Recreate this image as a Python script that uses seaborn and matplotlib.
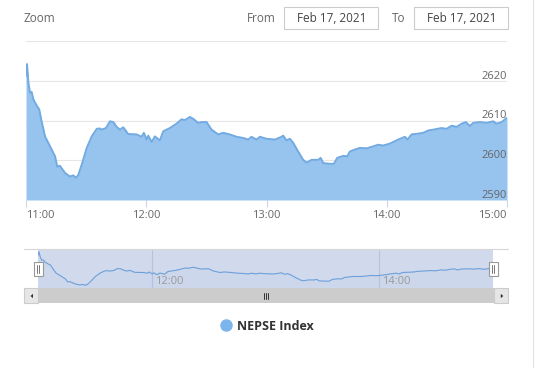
import matplotlib
matplotlib.use("Agg")
import matplotlib.pyplot as plt
import matplotlib.patches as mpatches
import matplotlib.transforms as mtransforms
from matplotlib.lines import Line2D
import seaborn as sns
import pandas as pd

# ---------------- data (minutes after 11:00, index value) ----------------
minutes = [0, 0.5, 1.2, 2, 2.8, 3.7, 5.3, 6.6, 7.8, 9.5,
           12, 14.5, 15.6, 16.9, 19.5, 21.9, 23.6, 24.9, 26.1, 27.8,
           30.3, 32.8, 35.3, 36.9, 37.7, 39.9, 41.9, 43.6, 45.2, 46.9,
           48.5, 51, 55.2, 57.7, 58.8, 60.2, 61, 62.7, 64.3, 66.8,
           68.5, 71.8, 75.1, 77.6, 79.3, 81.8, 83.5, 85.9, 87.6, 90.1,
           92.6, 95.9, 98.4, 101.7, 105.1, 108.4, 110.9, 112.5, 115,
           116.7, 120, 124.2, 127.5, 128.3, 130, 131.7, 133.3, 135.8, 138.3,
           140, 142.5, 145.8, 147, 148.3, 151.6, 153.6, 155.3, 158.3, 160.3,
           161.6, 164.1, 166.6, 170, 173.3, 175.7, 178.2, 181.6, 184.1, 186.6,
           189.1, 190.3, 192.4, 195.7, 198.2, 200.7, 203.2, 207.3, 209.8, 212.4,
           214.9, 217.4, 219.5, 221.5, 223.1, 226.5, 229.8, 233.1, 234.8, 237.3,
           240]
values = [2621.2, 2624.2, 2619.5, 2617.0, 2617.2, 2615.3, 2613.8, 2612.8, 2609.8, 2606.0,
          2603.5, 2601.0, 2598.4, 2598.6, 2596.8, 2595.9, 2596.2, 2595.6, 2596.3, 2598.9,
          2603.1, 2606.0, 2607.9, 2608.0, 2607.7, 2608.1, 2609.8, 2609.6, 2608.4, 2607.7,
          2608.3, 2606.6, 2606.5, 2605.9, 2606.9, 2605.2, 2606.2, 2604.6, 2606.0, 2605.0,
          2607.3, 2608.1, 2609.2, 2610.3, 2610.1, 2610.9, 2610.4, 2609.4, 2609.6, 2609.6,
          2607.7, 2606.5, 2606.9, 2606.5, 2605.9, 2605.6, 2605.2, 2605.9, 2605.2,
          2605.9, 2605.4, 2605.2, 2605.9, 2606.2, 2605.0, 2605.4, 2604.4, 2602.2, 2600.1,
          2599.4, 2600.1, 2600.1, 2600.6, 2599.3, 2599.1, 2599.1, 2600.6, 2601.1, 2601.0,
          2602.2, 2602.7, 2603.1, 2603.0, 2603.5, 2603.9, 2603.7, 2604.2, 2604.8, 2605.4,
          2605.9, 2605.2, 2606.5, 2606.7, 2606.9, 2607.5, 2607.7, 2608.1, 2607.9, 2608.7,
          2608.4, 2609.2, 2609.6, 2608.6, 2609.4, 2609.6, 2609.4, 2609.8, 2609.2, 2609.6,
          2610.7]

x_ticks = [0, 60, 120, 180, 240]
x_tick_labels = ["11:00", "12:00", "13:00", "14:00", "15:00"]
y_ticks = [2590, 2600, 2610, 2620, 2630]
y_tick_labels = ["2590", "2600", "2610", "2620"]
nav_ticks = [60, 180]
nav_tick_labels = ["12:00", "14:00"]
series_name = "NEPSE Index"
zoom_label = "Zoom"
from_label = "From"
to_label = "To"
date_from = "Feb 17, 2021"
date_to = "Feb 17, 2021"

# ---------------- figure ----------------
W, H = 543, 368
sns.set_theme(style="white")
plt.rcParams['font.family'] = ['Open Sans', 'DejaVu Sans']

fig = plt.figure(figsize=(W / 100, H / 100), dpi=100)
fig.patch.set_facecolor("white")


def box(l, t, r, b):
    return [l / W, 1 - b / H, (r - l) / W, (b - t) / H]


def fx(x):
    return x / W


def fy(y):
    return 1 - y / H


df = pd.DataFrame({"minute": minutes, "value": values})

# ---------------- main chart ----------------
ax = fig.add_axes(box(26, 41, 507, 200))
ax.set_facecolor("white")
ax.fill_between(df["minute"], df["value"], 2590, color="#96c4ef", lw=0, zorder=2)
sns.lineplot(data=df, x="minute", y="value", ax=ax, color="#72aae2", lw=1.4, zorder=3)
ax.set_xlim(0, 240)
ax.set_ylim(2590, 2630)
ax.set_yticks(y_ticks)
ax.set_yticklabels([])
ax.tick_params(axis="y", length=0)
ax.grid(axis="y", color="#e6e6e6", lw=0.8, zorder=0)
ax.grid(axis="x", visible=False)
for s in ax.spines.values():
    s.set_visible(False)
ax.set_xticks(x_ticks)
ax.set_xticklabels(x_tick_labels, fontsize=8, color="#666666")
ax.tick_params(axis="x", length=5, width=0.8, color="#ccd6eb", pad=2.5, bottom=True)
xl = ax.get_xticklabels()
xl[0].set_ha("left")
xl[-1].set_ha("right")
ax.set_xlabel("")
ax.set_ylabel("")
ytrans = mtransforms.offset_copy(
    mtransforms.blended_transform_factory(ax.transAxes, ax.transData),
    fig=fig, x=0, y=2, units="dots")
for v, lab in zip(y_ticks, y_tick_labels):
    ax.text(1.0, v, lab, transform=ytrans, ha="right", va="baseline",
            fontsize=8, color="#666666", zorder=5)

# ---------------- navigator ----------------
nav = fig.add_axes(box(38, 249.5, 493, 288.5))
nav.set_facecolor("#d1daed")
nav.fill_between(df["minute"], df["value"], 2590, color="#7cb5ec", alpha=0.06, lw=0)
sns.lineplot(data=df, x="minute", y="value", ax=nav, color="#6c9fd9", lw=0.8)
nav.set_xlim(0, 240)
nav.set_ylim(2592.8, 2626.1)
nav.set_xticks(nav_ticks)
nav.set_xticklabels([])
nav.set_yticks([])
nav.tick_params(length=0)
nav.grid(axis="x", color="#b9c3d6", lw=0.8)
nav.grid(axis="y", visible=False)
nav.set_xlabel("")
nav.set_ylabel("")
for s in nav.spines.values():
    s.set_visible(False)
ntrans = mtransforms.offset_copy(
    mtransforms.blended_transform_factory(nav.transData, nav.transAxes),
    fig=fig, x=3, y=0, units="dots")
for t, lab in zip(nav_ticks, nav_tick_labels):
    nav.text(t, 0.17, lab, transform=ntrans, ha="left", va="center",
             fontsize=8, color="#999999")

# navigator top line
fig.add_artist(Line2D([fx(24), fx(508)], [fy(249.3), fy(249.3)], color="#d6d6d6", lw=0.8))

# handles
for hx in (38, 493):
    fig.add_artist(mpatches.Rectangle((fx(hx - 4.5), fy(276)), 9 / W, 14.5 / H,
                                      transform=fig.transFigure, facecolor="white",
                                      edgecolor="#999999", lw=0.8, zorder=10))
    for dx in (-1.3, 1.3):
        fig.add_artist(Line2D([fx(hx + dx), fx(hx + dx)], [fy(265), fy(273)],
                              color="#777777", lw=0.7, zorder=11))

# scrollbar
fig.add_artist(mpatches.Rectangle((fx(24.3), fy(303.3)), (508 - 24.3) / W, 15 / H,
                                  transform=fig.transFigure, facecolor="#f2f2f2",
                                  edgecolor="none", lw=0))
fig.add_artist(mpatches.Rectangle((fx(38.3), fy(303.3)), (494 - 38.3) / W, 15 / H,
                                  transform=fig.transFigure, facecolor="#cccccc",
                                  edgecolor="none", lw=0))
for bl in (24.3, 494):
    fig.add_artist(mpatches.Rectangle((fx(bl), fy(303.3)), 14 / W, 15 / H,
                                      transform=fig.transFigure, facecolor="#e6e6e6",
                                      edgecolor="#cccccc", lw=0.8))
fig.add_artist(mpatches.Polygon([(fx(30.5), fy(296)), (fx(33), fy(293.8)), (fx(33), fy(298.2))],
                                closed=True, transform=fig.transFigure,
                                facecolor="#333333", edgecolor="none"))
fig.add_artist(mpatches.Polygon([(fx(503.3), fy(296)), (fx(500.8), fy(293.8)), (fx(500.8), fy(298.2))],
                                closed=True, transform=fig.transFigure,
                                facecolor="#333333", edgecolor="none"))
for gx in (264, 266.2, 268.4):
    fig.add_artist(Line2D([fx(gx), fx(gx)], [fy(293.3), fy(298.8)], color="#333333", lw=0.7))

# ---------------- header (range selector) ----------------
fig.text(fx(24), fy(18), zoom_label, ha="left", va="center", fontsize=8.5, color="#666666")
fig.text(fx(247), fy(18), from_label, ha="left", va="center", fontsize=8.5, color="#666666")
fig.text(fx(391.5), fy(18), to_label, ha="left", va="center", fontsize=8.5, color="#666666")
for (l, r), txt in (((284.3, 378.3), date_from), ((414.3, 508.3), date_to)):
    fig.add_artist(mpatches.Rectangle((fx(l), fy(28.7)), (r - l) / W, 21.4 / H,
                                      transform=fig.transFigure, facecolor="white",
                                      edgecolor="#cccccc", lw=0.8))
    fig.text(fx((l + r) / 2), fy(18), txt, ha="center", va="center",
             fontsize=8.5, color="#444444")

# right border
fig.add_artist(Line2D([fx(533), fx(533)], [0, 1], color="#e3e3e3", lw=0.8))

# ---------------- legend ----------------
handle = Line2D([], [], marker="o", ls="", color="#7cb5ec", markersize=8, label=series_name)
fig.legend(handles=[handle], loc="center", bbox_to_anchor=(fx(267), fy(326)),
           frameon=False, handlelength=0.8, handletextpad=0.5,
           prop={"weight": "bold", "size": 9}, labelcolor="#333333")

fig.savefig("out.png", dpi=100)
